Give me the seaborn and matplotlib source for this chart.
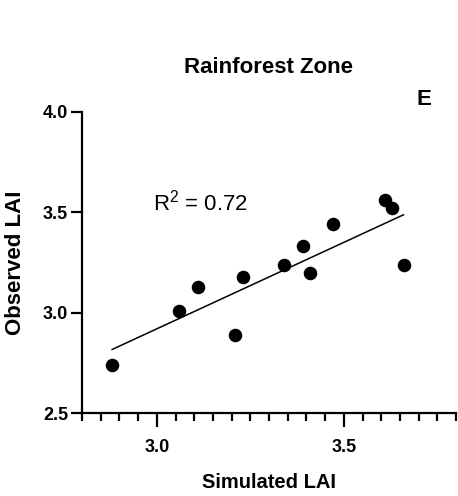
import numpy as np
import pandas as pd
import seaborn as sns
import matplotlib.pyplot as plt
from matplotlib.ticker import MultipleLocator, FormatStrFormatter

# simulated vs observed LAI, rainforest zone
simulated = [2.88, 3.06, 3.11, 3.21, 3.23, 3.34, 3.39, 3.41, 3.47, 3.61, 3.63, 3.66]
observed = [2.74, 3.01, 3.13, 2.89, 3.18, 3.24, 3.33, 3.20, 3.44, 3.56, 3.52, 3.24]

x_ticks = [3.0, 3.5]
y_ticks = [2.5, 3.0, 3.5, 4.0]

sns.set_style('ticks')
plt.rcParams['font.family'] = ['Liberation Sans', 'DejaVu Sans']
plt.rcParams['mathtext.fontset'] = 'custom'
plt.rcParams['mathtext.rm'] = 'Liberation Sans'
for key in ['text.color', 'axes.labelcolor', 'xtick.color', 'ytick.color', 'axes.edgecolor']:
    plt.rcParams[key] = 'black'

df = pd.DataFrame({'Simulated LAI': simulated, 'Observed LAI': observed})

fig = plt.figure(figsize=(4.58, 4.96), dpi=100)
ax = fig.add_axes([82 / 458, 1 - 413 / 496, 374 / 458, 301 / 496])

sns.regplot(data=df, x='Simulated LAI', y='Observed LAI', ci=None, ax=ax,
            scatter_kws=dict(s=95, color='black', linewidths=0, alpha=1),
            line_kws=dict(color='black', lw=1.1))

ax.set_xlim(2.8, 3.8)
ax.set_ylim(2.5, 4.0)
ax.set_xticks(x_ticks)
ax.set_yticks(y_ticks)
ax.xaxis.set_minor_locator(MultipleLocator(0.05))
ax.xaxis.set_major_formatter(FormatStrFormatter('%.1f'))
ax.yaxis.set_major_formatter(FormatStrFormatter('%.1f'))

for s in ['left', 'bottom']:
    ax.spines[s].set_linewidth(1.6)
sns.despine(ax=ax)

ax.tick_params(axis='x', which='major', length=10, width=1.6, pad=9, labelsize=13)
ax.tick_params(axis='x', which='minor', length=5.5, width=1.6)
ax.tick_params(axis='y', which='major', length=8, width=1.6, pad=2, labelsize=13)
for lab in ax.get_xticklabels() + ax.get_yticklabels():
    lab.set_fontweight('bold')

ax.set_xlabel('Simulated LAI', fontsize=14.5, fontweight='bold', labelpad=12)
ax.set_ylabel('Observed LAI', fontsize=16, fontweight='bold', labelpad=12)

ax.text(2.99, 3.51, r'R$^2$ = 0.72', fontsize=16, ha='left', va='baseline')

fig.text(269 / 458, 1 - 73 / 496, 'Rainforest Zone', fontsize=16,
         fontweight='bold', ha='center', va='baseline')
fig.text(417 / 458, 1 - 105 / 496, 'E', fontsize=16, fontweight='bold',
         ha='left', va='baseline')

fig.savefig('out.png', dpi=100)
